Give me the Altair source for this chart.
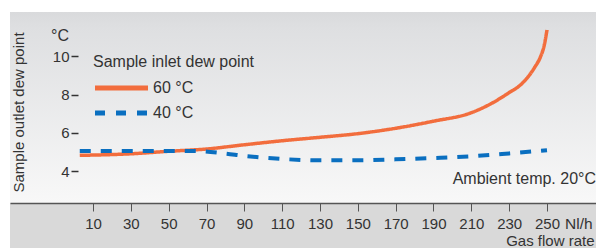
import altair as alt
import pandas as pd

# ---- data ----
flow_60 = [3, 30, 50, 70, 90, 110, 130, 150, 170, 190, 210, 220, 230, 236, 241, 243.5, 246.5, 248.5, 250]
temp_60 = [4.83, 4.91, 5.04, 5.16, 5.38, 5.59, 5.77, 5.96, 6.24, 6.61, 7.05, 7.5, 8.1, 8.5, 9.05, 9.42, 9.95, 10.55, 11.36]

flow_40 = [3, 50, 65, 80, 90, 110, 130, 150, 170, 190, 210, 230, 250]
temp_40 = [5.06, 5.06, 5.05, 4.92, 4.8, 4.64, 4.57, 4.57, 4.62, 4.69, 4.78, 4.93, 5.1]

series_names = ["60 °C", "40 °C"]
series_colors = ["#f26d3d", "#0a6fc0"]
x_ticks = [10, 30, 50, 70, 90, 110, 130, 150, 170, 190, 210, 230, 250]
y_ticks = [4, 6, 8, 10]

FONT = "Liberation Sans"
TXT = "#333333"
W, H = 586, 236
AX_Y = 191  # plot-coordinate of the x axis line
PX_PER_UNIT = 454 / 240
X0 = 10 - 83 / PX_PER_UNIT
X1 = X0 + W / PX_PER_UNIT

rows = []
for f, t in zip(flow_60, temp_60):
    rows.append({"flow": f, "temp": t, "series": series_names[0]})
for f, t in zip(flow_40, temp_40):
    rows.append({"flow": f, "temp": t, "series": series_names[1]})
df = pd.DataFrame(rows)

one = alt.Data(values=[{}])

bg = alt.Chart(one).mark_rect(
    color=alt.Gradient(
        gradient="linear", x1=0, y1=0, x2=0, y2=1,
        stops=[alt.GradientStop(offset=0, color="#d9dadc"),
               alt.GradientStop(offset=0.08, color="#dedfe1"),
               alt.GradientStop(offset=1, color="#f8f8f8")],
    )
).encode(x=alt.value(0), x2=alt.value(W), y=alt.value(0), y2=alt.value(AX_Y))

band = alt.Chart(one).mark_rect(color="#d9d9d9").encode(
    x=alt.value(0), x2=alt.value(W), y=alt.value(AX_Y), y2=alt.value(H)
)

xscale = alt.Scale(domain=[X0, X1], nice=False, zero=False)
yscale = alt.Scale(domain=[0, 12.3], nice=False, zero=False)

lines = alt.Chart(df).mark_line(interpolate="monotone", strokeCap="butt").encode(
    x=alt.X("flow:Q", scale=xscale,
            axis=alt.Axis(values=x_ticks, offset=-(H - AX_Y), orient="bottom", zindex=2,
                          domainColor="#555555", domainWidth=1.5,
                          tickColor="#555555", tickWidth=1, tickSize=8,
                          labelFont=FONT, labelFontSize=15, labelColor=TXT,
                          labelPadding=5, grid=False,
                          title="Gas flow rate", titleFont=FONT, titleFontSize=15,
                          titleFontWeight="normal", titleColor=TXT,
                          titleAlign="right", titleAnchor="end",
                          titleX=584, titleY=42, titleBaseline="alphabetic")),
    y=alt.Y("temp:Q", scale=yscale,
            axis=alt.Axis(values=y_ticks, offset=-68, orient="left", domain=False, zindex=2,
                          tickColor=TXT, tickWidth=1.5, tickSize=7,
                          labelFont=FONT, labelFontSize=15, labelColor=TXT,
                          labelPadding=2, grid=False,
                          title="Sample outlet dew point", titleFont=FONT,
                          titleFontSize=15, titleFontWeight="normal", titleColor=TXT,
                          titleAngle=-90, titleAlign="center", titleBaseline="middle",
                          titleX=-60, titleY=100)),
    color=alt.Color("series:N",
                    scale=alt.Scale(domain=series_names, range=series_colors),
                    legend=None),
    strokeDash=alt.StrokeDash("series:N",
                              scale=alt.Scale(domain=series_names, range=[[1, 0], [11, 10]]),
                              legend=None),
    strokeWidth=alt.StrokeWidth("series:N",
                                scale=alt.Scale(domain=series_names, range=[3.5, 4]),
                                legend=None),
)

# ---- hand-drawn legend ----
leg_y = [76, 101]
leg_dash = [[1, 0], [10, 11]]

def leg_rule(i):
    return alt.Chart(one).mark_rule(
        color=series_colors[i], strokeWidth=5, strokeDash=leg_dash[i], strokeCap="butt"
    ).encode(x=alt.value(85), x2=alt.value(138), y=alt.value(leg_y[i]))

def leg_text(i):
    return alt.Chart(one).mark_text(
        text=series_names[i], font=FONT, fontSize=16, color=TXT,
        align="left", baseline="middle"
    ).encode(x=alt.value(143), y=alt.value(leg_y[i]))

annot = pd.DataFrame({
    "label": ["°C", "Nl/h", "Ambient temp. 20°C", "Sample inlet dew point"],
    "px": [50, 555, 586, 83],
    "py": [24, 212, 167, 50],
    "size": [16, 15.5, 16, 16],
    "align": ["center", "left", "right", "left"],
})

def text_layer(i):
    r = annot.iloc[i]
    return alt.Chart(one).mark_text(
        text=r["label"], font=FONT, fontSize=float(r["size"]), color=TXT,
        align=r["align"], baseline="middle"
    ).encode(x=alt.value(int(r["px"])), y=alt.value(int(r["py"])))

chart = alt.layer(
    bg, band, lines,
    leg_rule(0), leg_rule(1), leg_text(0), leg_text(1),
    *[text_layer(i) for i in range(len(annot))]
).properties(
    width=W, height=H,
    autosize=alt.AutoSizeParams(type="none"),
    padding={"left": 2, "top": 4, "right": 0, "bottom": 0},
).configure_view(stroke=None).configure(background="white")

chart.save("out.html", embed_options={"renderer": "svg", "actions": False})
